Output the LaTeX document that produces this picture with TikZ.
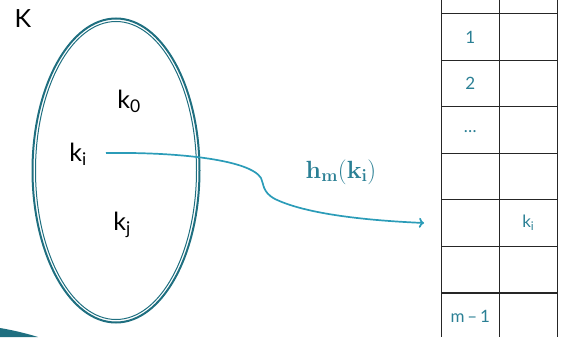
\documentclass[tikz,border=0pt]{standalone}
\usepackage[no-math]{fontspec}
\setmainfont{Lato}
\usetikzlibrary{arrows.meta,shapes.geometric}
\definecolor{tealdark}{HTML}{1F6F80}
\definecolor{teallab}{HTML}{2A7F94}
\definecolor{tealarrow}{HTML}{2B9CB8}
\tikzset{
  keylab/.style={font=\fontsize{25}{28}\selectfont, text=black, inner sep=0pt},
  cell/.style={font=\fontsize{17}{20}\selectfont, text=teallab, inner sep=0pt},
  grid/.style={line width=1.1pt, draw=black!85},
  ring/.style={draw=tealdark, ellipse, inner sep=0pt},
}
\begin{document}
\begin{tikzpicture}[x=1pt,y=-1pt]
\useasboundingbox (0,0) rectangle (583,337);
% bottom-left swoosh
\fill[tealdark] (0,328) .. controls (12,330) and (25,333) .. (38,337) -- (0,337) -- cycle;
% ellipse (double ring)
\node[ring, line width=2pt, minimum width=167pt, minimum height=304pt] (set) at (116,170.5) {};
\node[ring, line width=1pt, minimum width=161pt, minimum height=298pt] (setin) at (116,170.5) {};
% labels
\node[keylab] (K) at (23,19) {K};
\node[keylab] (k0) at (129,101) {k\textsubscript{0}};
\node[keylab] (ki) at (78,154) {k\textsubscript{i}};
\node[keylab] (kj) at (122,225) {k\textsubscript{j}};
% table
\foreach \x in {441.3,499.3,557.3} \draw[grid] (\x,0) -- (\x,337);
\foreach \y in {13.3,60.3,106.7,153.3,199.7,246.3,293} \draw[grid] (441.3,\y) -- (557.3,\y);
\node[cell] (c1) at (470.3,37) {1};
\node[cell] (c2) at (470.3,83.5) {2};
\node[cell] (c3) at (470.3,132) {\dots};
\node[cell] (cki) at (528.3,223) {k\textsubscript{i}};
\node[cell] (cm) at (470.3,316) {m\,–\,1};
\coordinate (s) at (106,153);
\coordinate (e) at (424,223);
% hash label
\node[text=teallab, font=\fontsize{25}{28}\selectfont] (h) at (341,172) {$\mathbf{h_m(k_i)}$};
% arrow
\draw[tealarrow, line width=1.7pt, -{To[length=5pt,width=10pt]}]
  (s) .. controls (180,152) and (250,160) .. (261,178)
  .. controls (264,184) and (262,192) .. (275,199)
  .. controls (310,216) and (380,221) .. (e);
\end{tikzpicture}
\end{document}
